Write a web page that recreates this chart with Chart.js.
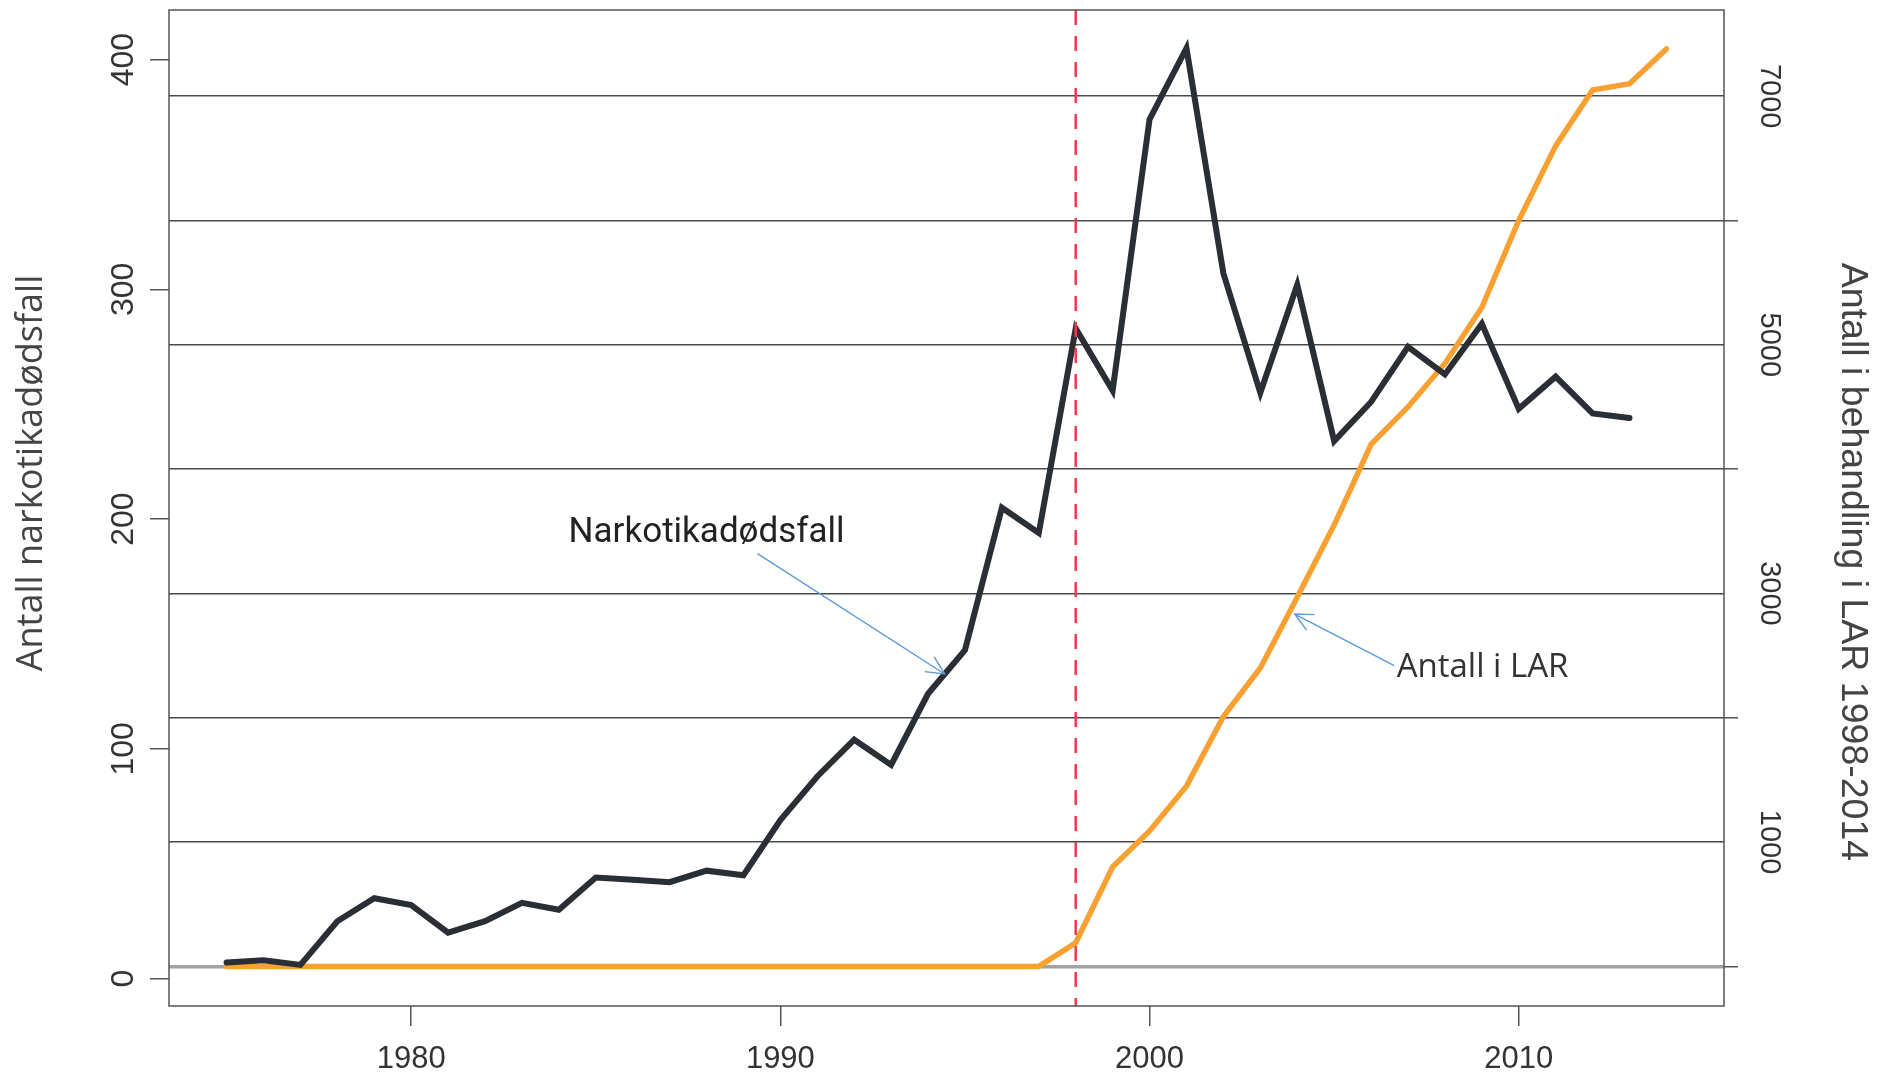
<!DOCTYPE html>
<html>
<head>
<meta charset="utf-8">
<script src="https://cdn.jsdelivr.net/npm/chart.js@4.4.1/dist/chart.umd.min.js"></script>
<style>
  html, body { margin: 0; padding: 0; background: #fff; }
  #wrap { width: 1881px; height: 1077px; }
</style>
</head>
<body>
<div id="wrap"><canvas id="chart" width="1881" height="1077"></canvas></div>
<script>
// drug deaths per year (left axis)
const DEATH_YEARS = [1975, 1976, 1977, 1978, 1979, 1980, 1981, 1982, 1983, 1984,
  1985, 1986, 1987, 1988, 1989, 1990, 1991, 1992, 1993, 1994,
  1995, 1996, 1997, 1998, 1999, 2000, 2001, 2002, 2003, 2004,
  2005, 2006, 2007, 2008, 2009, 2010, 2011, 2012, 2013];
const DEATHS = [7, 8, 6, 25, 35, 32, 20, 25, 33, 30,
  44, 43, 42, 47, 45, 69, 88, 104, 93, 124,
  143, 205, 194, 283, 256, 374, 405, 307, 255, 302,
  234, 251, 275, 263, 285, 248, 262, 246, 244];

// patients in LAR per year (right axis)
const LAR_YEARS = [1975, 1976, 1977, 1978, 1979, 1980, 1981, 1982, 1983, 1984,
  1985, 1986, 1987, 1988, 1989, 1990, 1991, 1992, 1993, 1994,
  1995, 1996, 1997, 1998, 1999, 2000, 2001, 2002, 2003, 2004,
  2005, 2006, 2007, 2008, 2009, 2010, 2011, 2012, 2013, 2014];
const LAR = [0, 0, 0, 0, 0, 0, 0, 0, 0, 0,
  0, 0, 0, 0, 0, 0, 0, 0, 0, 0,
  0, 0, 0, 190, 800, 1090, 1450, 2010, 2400, 2970,
  3550, 4200, 4500, 4850, 5300, 6000, 6600, 7050, 7100, 7380];

const LAR_START = 1998;

const X_TICKS = [1980, 1990, 2000, 2010];
const LEFT_TICKS = [0, 100, 200, 300, 400];
const RIGHT_TICKS = [0, 1000, 2000, 3000, 4000, 5000, 6000, 7000];
const RIGHT_LABELED = [1000, 3000, 5000, 7000];

const LEFT_TITLE = 'Antall narkotikadødsfall';
const RIGHT_TITLE = 'Antall i behandling i LAR 1998-2014';

// callouts, anchored in data units (left axis)
const NOTES = [
  { text: 'Narkotikadødsfall', at: [1988.0, 194], from: [1989.38, 185], to: [1994.45, 132.6],
    font: '35px Roboto', color: '#222' },
  { text: 'Antall i LAR', at: [2009.02, 135.3], from: [2006.63, 136.2], to: [2003.93, 158.7],
    font: '33px "Open Sans"', color: '#333' },
];

const TICK_FONT = 'Liberation Sans';
const AXIS_GREY = '#555';

const framePlugin = {
  id: 'frame',
  afterDraw(chart) {
    const { ctx, chartArea: a } = chart;
    ctx.save();
    ctx.strokeStyle = AXIS_GREY;
    ctx.lineWidth = 1.5;
    ctx.strokeRect(a.left, a.top, a.right - a.left, a.bottom - a.top);
    ctx.restore();
  }
};

const startLinePlugin = {
  id: 'startLine',
  afterDatasetsDraw(chart) {
    const { ctx, chartArea: a } = chart;
    const x = chart.scales.x.getPixelForValue(LAR_START);
    ctx.save();
    ctx.strokeStyle = '#ee3b50';
    ctx.lineWidth = 2.5;
    ctx.setLineDash([15, 11]);
    ctx.beginPath();
    ctx.moveTo(x, a.top);
    ctx.lineTo(x, a.bottom);
    ctx.stroke();
    ctx.restore();
  }
};

function arrow(ctx, x1, y1, x2, y2) {
  const ang = Math.atan2(y2 - y1, x2 - x1);
  const len = 20, spread = 0.45;
  ctx.beginPath();
  ctx.moveTo(x1, y1);
  ctx.lineTo(x2, y2);
  ctx.moveTo(x2 - len * Math.cos(ang - spread), y2 - len * Math.sin(ang - spread));
  ctx.lineTo(x2, y2);
  ctx.lineTo(x2 - len * Math.cos(ang + spread), y2 - len * Math.sin(ang + spread));
  ctx.stroke();
}

const notesPlugin = {
  id: 'notes',
  afterDraw(chart) {
    const { ctx } = chart;
    const sx = chart.scales.x, sy = chart.scales.y;
    ctx.save();
    NOTES.forEach(n => {
      ctx.strokeStyle = '#5b9bd5';
      ctx.lineWidth = 1.4;
      arrow(ctx, sx.getPixelForValue(n.from[0]), sy.getPixelForValue(n.from[1]),
        sx.getPixelForValue(n.to[0]), sy.getPixelForValue(n.to[1]));
      ctx.font = n.font;
      ctx.fillStyle = n.color;
      ctx.textAlign = 'center';
      ctx.textBaseline = 'middle';
      ctx.fillText(n.text, sx.getPixelForValue(n.at[0]), sy.getPixelForValue(n.at[1]));
    });
    ctx.restore();
  }
};

const titlesPlugin = {
  id: 'titles',
  afterDraw(chart) {
    const { ctx, chartArea: a } = chart;
    const mid = (a.top + a.bottom) / 2;
    ctx.save();
    ctx.textAlign = 'center';
    ctx.textBaseline = 'middle';
    ctx.fillStyle = '#444';

    ctx.save();
    ctx.translate(a.left - 137, mid - 35);
    ctx.rotate(-Math.PI / 2);
    ctx.font = '36px "Open Sans"';
    ctx.fillText(LEFT_TITLE, 0, 0);
    ctx.restore();

    ctx.save();
    ctx.translate(a.right + 128, mid + 54);
    ctx.rotate(Math.PI / 2);
    ctx.font = '37.5px "Liberation Sans"';
    ctx.fillText(RIGHT_TITLE, 0, 0);
    ctx.restore();

    ctx.restore();
  }
};

// keep the vertical axes from reserving room for their end labels
const noEndPadding = s => { s.paddingTop = 0; s.paddingBottom = 0; };

new Chart(document.getElementById('chart'), {
  type: 'line',
  data: {
    datasets: [
      {
        label: 'Narkotikadødsfall',
        data: DEATH_YEARS.map((yr, i) => ({ x: yr, y: DEATHS[i] })),
        yAxisID: 'y',
        borderColor: '#2a2e35',
        borderWidth: 6,
        pointRadius: 0,
        tension: 0,
        borderCapStyle: 'round',
      },
      {
        label: 'Antall i LAR',
        data: LAR_YEARS.map((yr, i) => ({ x: yr, y: LAR[i] })),
        yAxisID: 'y2',
        borderColor: '#f9a032',
        borderWidth: 5.5,
        pointRadius: 0,
        tension: 0,
        borderCapStyle: 'round',
      },
    ],
  },
  options: {
    responsive: false,
    animation: false,
    devicePixelRatio: 1,
    layout: { padding: { top: 10, left: 0, right: 0, bottom: 0 } },
    plugins: { legend: { display: false }, tooltip: { enabled: false } },
    scales: {
      x: {
        type: 'linear',
        position: 'bottom',
        min: 1973.44,
        max: 2015.56,
        afterBuildTicks: s => { s.ticks = X_TICKS.map(v => ({ value: v })); },
        afterFit: s => { s.height = 71; s.paddingLeft = 0; s.paddingRight = 0; },
        ticks: {
          color: '#333',
          font: { family: TICK_FONT, size: 31 },
          padding: 15,
          maxRotation: 0,
          autoSkip: false,
          callback: v => String(v),
        },
        grid: { drawOnChartArea: false, tickLength: 20, tickColor: AXIS_GREY, lineWidth: 1.5 },
        border: { display: false },
      },
      y: {
        type: 'linear',
        position: 'left',
        min: -11.9,
        max: 421.6,
        afterBuildTicks: s => { s.ticks = LEFT_TICKS.map(v => ({ value: v })); },
        afterFit: s => { s.width = 169; noEndPadding(s); },
        ticks: {
          color: '#333',
          font: { family: TICK_FONT, size: 32 },
          minRotation: 90,
          maxRotation: 90,
          crossAlign: 'center',
          padding: -1,
          autoSkip: false,
          callback: v => String(v),
        },
        grid: { drawOnChartArea: false, tickLength: 19, tickColor: AXIS_GREY, lineWidth: 1.5 },
        border: { display: false },
      },
      y2: {
        type: 'linear',
        position: 'right',
        min: -318.5,
        max: 7693,
        afterBuildTicks: s => { s.ticks = RIGHT_TICKS.map(v => ({ value: v })); },
        afterFit: s => { s.width = 157; noEndPadding(s); },
        ticks: {
          color: '#333',
          font: { family: TICK_FONT, size: 29 },
          minRotation: -90,
          maxRotation: -90,
          crossAlign: 'center',
          padding: -1,
          autoSkip: false,
          callback: v => RIGHT_LABELED.includes(v) ? String(v) : '',
        },
        grid: {
          drawOnChartArea: true,
          color: c => (c.tick && c.tick.value === 0) ? '#a3a3a3' : '#4a4a4a',
          lineWidth: c => (c.tick && c.tick.value === 0) ? 3.5 : 1.6,
          tickLength: 14,
          tickWidth: 1.5,
          tickColor: c => (c.tick && c.tick.value % 2000 === 0) ? AXIS_GREY : 'rgba(0,0,0,0)',
        },
        border: { display: false },
      },
    },
  },
  plugins: [framePlugin, startLinePlugin, notesPlugin, titlesPlugin],
});
</script>
</body>
</html>
